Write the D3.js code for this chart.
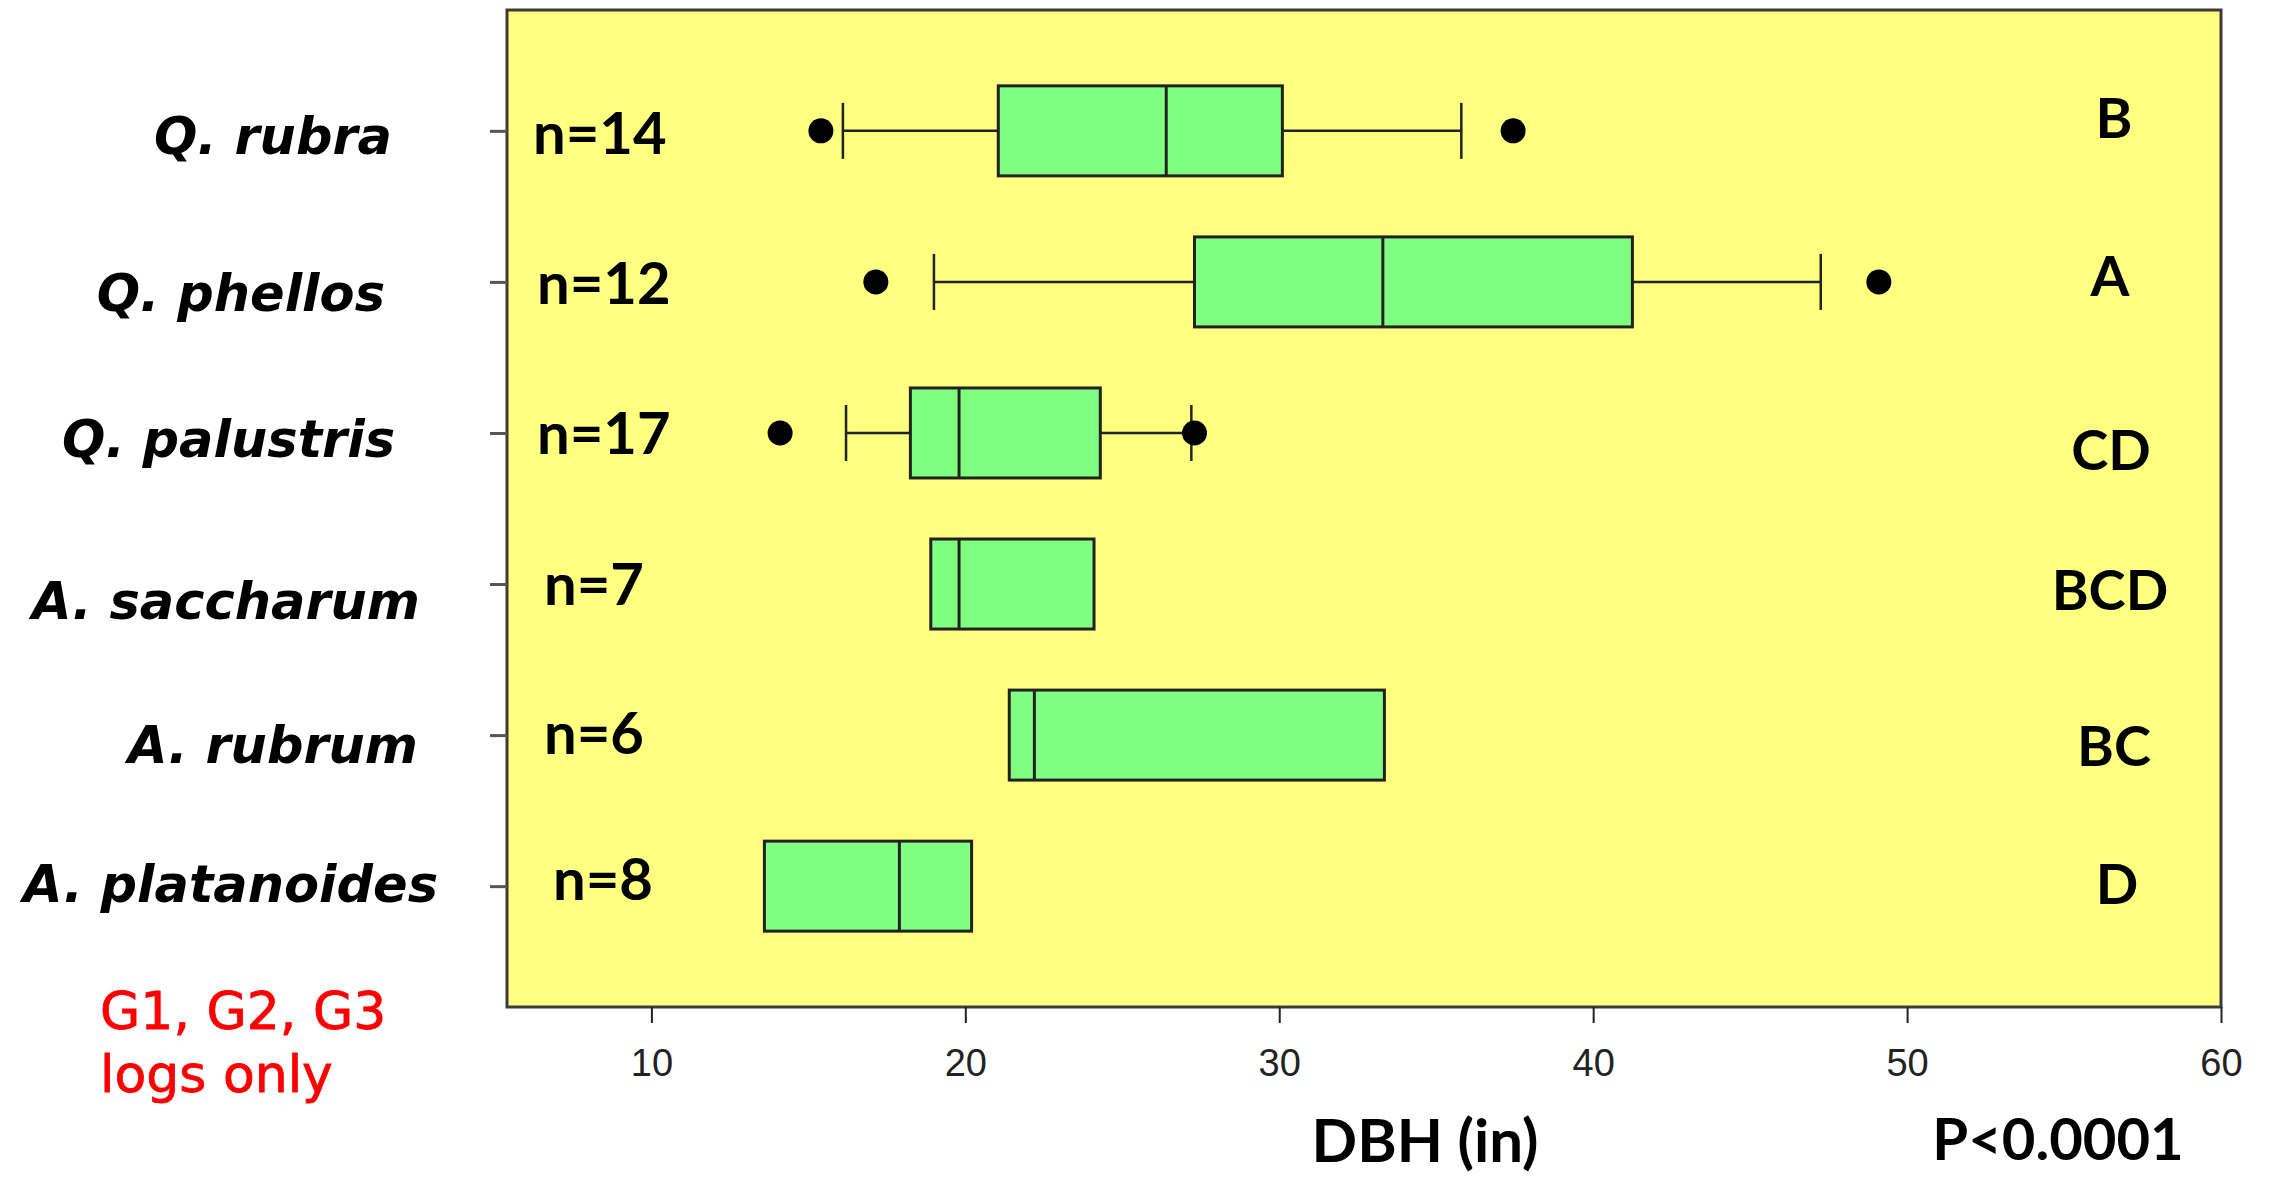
<!DOCTYPE html>
<html>
<head>
<meta charset="utf-8">
<script src="https://cdn.jsdelivr.net/npm/d3@7"></script>
<style>
  body { margin: 0; background: #fff; }
  svg { display: block; }
</style>
</head>
<body>
<svg id="chart" width="2269" height="1177"></svg>
<script>
// species (top to bottom)
var species = ["Q. rubra", "Q. phellos", "Q. palustris", "A. saccharum", "A. rubrum", "A. platanoides"];
// box stats, DBH in inches
var q1 = [21.05, 27.3, 18.25, 18.9, 21.4, 13.6];
var medians = [26.4, 33.3, 19.8, 19.8, 22.2, 17.9];
var q3 = [30.1, 41.25, 24.3, 24.1, 33.35, 20.2];
var whiskerLow = [16.1, 19.0, 16.2, null, null, null];
var whiskerHigh = [35.8, 47.25, 27.2, null, null, null];
var outliers = [[15.4, 37.45], [17.15, 49.1], [14.1, 27.3], [], [], []];
var counts = [14, 12, 17, 7, 6, 8];
var groups = ["B", "A", "CD", "BCD", "BC", "D"];
var xTicks = [10, 20, 30, 40, 50, 60];

// hand placed text nudges (slide layout)
var speciesRight = [392, 385, 395, 420, 418, 438];
var speciesDy = [23, 29, 24, 35, 28, 16];
var countLeft = [533, 537, 537, 544, 544, 553];
var countDy = [23, 22, 21, 21, 19, 14];
var groupDx = [2114, 2110, 2111, 2110, 2114, 2117];
var groupDy = [7, 14, 37, 26, 31, 18];

var svg = d3.select("#chart"),
    plot = {left: 507, right: 2221, top: 10, bottom: 1007};

var x = d3.scaleLinear()
    .domain([5.4, 60])
    .range([plot.left, plot.right]);

var y = d3.scalePoint()
    .domain(species)
    .range([plot.top, plot.bottom])
    .padding(0.8);

var boxHalf = 45, capHalf = 28;
var gothic = "'Lato', 'Noto Sans', sans-serif";

svg.append("rect")
    .attr("x", plot.left)
    .attr("y", plot.top)
    .attr("width", plot.right - plot.left)
    .attr("height", plot.bottom - plot.top)
    .attr("fill", "#ffff80")
    .attr("stroke", "#3a3a3a")
    .attr("stroke-width", 3);

// axes
var xAxis = svg.append("g")
    .attr("transform", "translate(0," + plot.bottom + ")")
    .call(d3.axisBottom(x).tickValues(xTicks).tickSize(16).tickPadding(26));
xAxis.select(".domain").remove();
xAxis.selectAll("line").attr("stroke", "#222").attr("stroke-width", 2);
xAxis.selectAll("text")
    .attr("fill", "#222")
    .style("font-family", "'Liberation Sans Narrow', 'Arial Narrow', 'Liberation Sans', sans-serif")
    .style("font-size", "38px");

var yAxis = svg.append("g")
    .attr("transform", "translate(" + plot.left + ",0)")
    .call(d3.axisLeft(y).tickSize(17).tickFormat(""));
yAxis.select(".domain").remove();
yAxis.selectAll("line").attr("stroke", "#555").attr("stroke-width", 3);

var rows = species.map(function(s, i) {
  return {
    name: s, i: i, q1: q1[i], med: medians[i], q3: q3[i],
    lo: whiskerLow[i], hi: whiskerHigh[i], out: outliers[i]
  };
});

var g = svg.append("g");

// whiskers
rows.filter(function(d) { return d.lo != null; }).forEach(function(d) {
  var cy = y(d.name);
  [[d.lo, d.q1], [d.q3, d.hi]].forEach(function(seg) {
    g.append("line")
        .attr("x1", x(seg[0])).attr("x2", x(seg[1]))
        .attr("y1", cy).attr("y2", cy)
        .attr("stroke", "#222").attr("stroke-width", 2.5);
  });
  [d.lo, d.hi].forEach(function(v) {
    g.append("line")
        .attr("x1", x(v)).attr("x2", x(v))
        .attr("y1", cy - capHalf).attr("y2", cy + capHalf)
        .attr("stroke", "#222").attr("stroke-width", 2.5);
  });
});

// boxes
g.selectAll("rect.box")
    .data(rows)
  .enter().append("rect")
    .attr("class", "box")
    .attr("x", function(d) { return x(d.q1); })
    .attr("y", function(d) { return y(d.name) - boxHalf; })
    .attr("width", function(d) { return x(d.q3) - x(d.q1); })
    .attr("height", boxHalf * 2)
    .attr("fill", "#80ff80")
    .attr("stroke", "#222")
    .attr("stroke-width", 3);

g.selectAll("line.med")
    .data(rows)
  .enter().append("line")
    .attr("class", "med")
    .attr("x1", function(d) { return x(d.med); })
    .attr("x2", function(d) { return x(d.med); })
    .attr("y1", function(d) { return y(d.name) - boxHalf; })
    .attr("y2", function(d) { return y(d.name) + boxHalf; })
    .attr("stroke", "#222")
    .attr("stroke-width", 3);

// outliers
rows.forEach(function(d) {
  g.selectAll(null)
      .data(d.out)
    .enter().append("circle")
      .attr("cx", function(v) { return x(v); })
      .attr("cy", y(d.name))
      .attr("r", 12.5)
      .attr("fill", "#000");
});

// species labels
svg.append("g").selectAll("text")
    .data(rows)
  .enter().append("text")
    .attr("x", function(d) { return speciesRight[d.i]; })
    .attr("y", function(d) { return y(d.name) + speciesDy[d.i]; })
    .attr("text-anchor", "end")
    .style("font-family", "'DejaVu Sans', sans-serif")
    .style("font-weight", "bold")
    .style("font-style", "oblique")
    .style("font-size", "51px")
    .attr("fill", "#000")
    .text(function(d) { return d.name; });

// n= labels
svg.append("g").selectAll("text")
    .data(rows)
  .enter().append("text")
    .attr("x", function(d) { return countLeft[d.i]; })
    .attr("y", function(d) { return y(d.name) + countDy[d.i]; })
    .style("font-family", gothic)
    .style("font-weight", "bold")
    .style("font-size", "58px")
    .attr("fill", "#000")
    .text(function(d) { return "n=" + counts[d.i]; });

// group letters
svg.append("g").selectAll("text")
    .data(rows)
  .enter().append("text")
    .attr("x", function(d) { return groupDx[d.i]; })
    .attr("y", function(d) { return y(d.name) + groupDy[d.i]; })
    .attr("text-anchor", "middle")
    .style("font-family", gothic)
    .style("font-weight", "bold")
    .style("font-size", "56px")
    .attr("fill", "#000")
    .text(function(d) { return groups[d.i]; });

// axis title and p value
svg.append("text")
    .attr("x", 1425)
    .attr("y", 1162)
    .attr("text-anchor", "middle")
    .style("font-family", gothic)
    .style("font-weight", "bold")
    .style("font-size", "60px")
    .text("DBH (in)");

svg.append("text")
    .attr("x", 2058)
    .attr("y", 1160)
    .attr("text-anchor", "middle")
    .style("font-family", gothic)
    .style("font-weight", "bold")
    .style("font-size", "58px")
    .text("P<0.0001");

// note
var note = svg.append("text")
    .style("font-family", "'DejaVu Sans', sans-serif")
    .style("font-size", "52px")
    .attr("fill", "#ff0000")
    .attr("stroke", "#ff0000")
    .attr("stroke-width", 0.8);
note.append("tspan").attr("x", 100).attr("y", 1029).text("G1, G2, G3");
note.append("tspan").attr("x", 100).attr("y", 1092).text("logs only");
</script>
</body>
</html>
